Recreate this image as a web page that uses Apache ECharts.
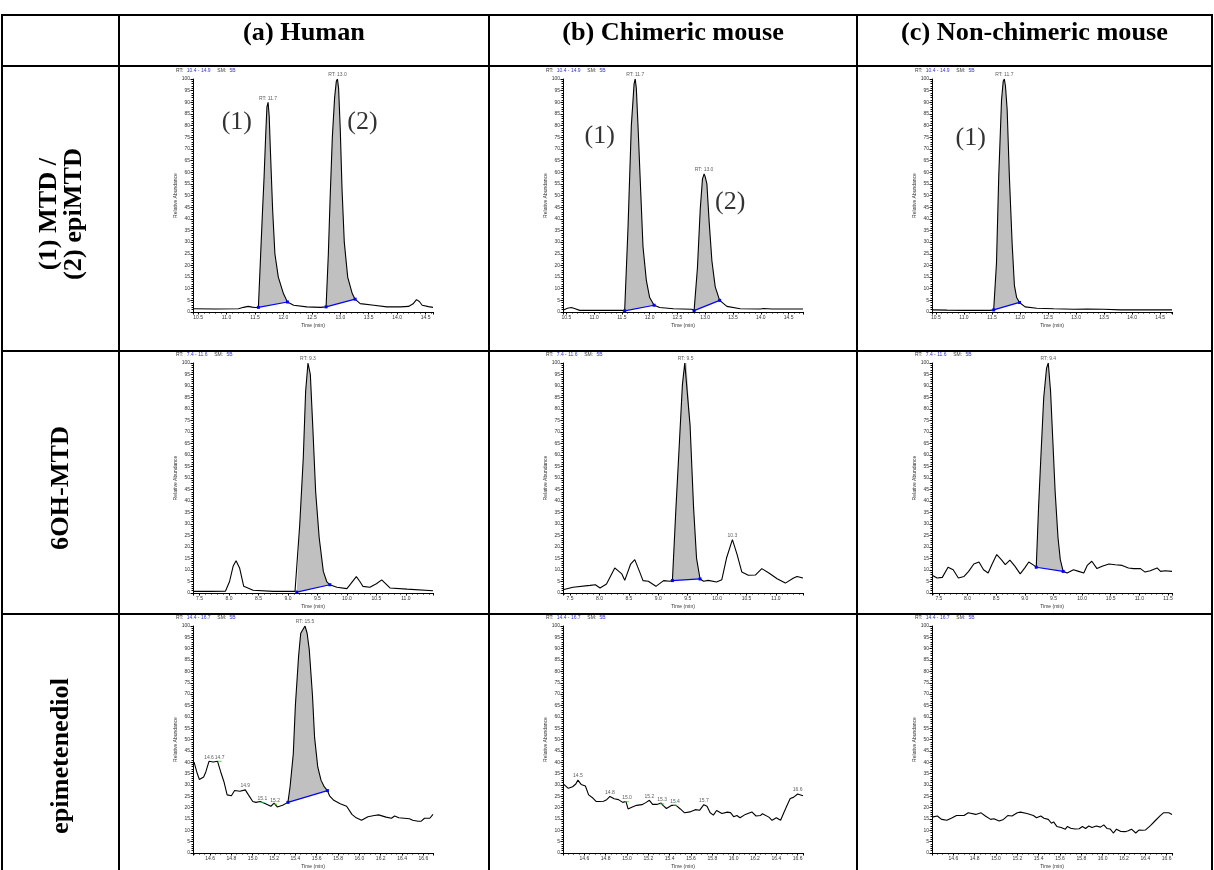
<!DOCTYPE html>
<html>
<head>
<meta charset="UTF-8">
<title>MTD chromatograms</title>
<script src="https://cdn.jsdelivr.net/npm/echarts@6/dist/echarts.min.js"></script>
<style>
    * { margin: 0; padding: 0; box-sizing: border-box; }
    body { background: #fff; }
    #chart { width: 1214px; height: 870px; }
</style>
</head>
<body>
<div id="chart"></div>
<script>
// table titles
const columnTitles = ['(a) Human', '(b) Chimeric mouse', '(c) Non-chimeric mouse'];
const rowTitles = ['(1) MTD /\n(2) epiMTD', '6OH-MTD', 'epimetenediol'];
const rowRanges = ['10.4 - 14.9', '7.4 - 11.6', '14.4 - 16.7'];
const smoothing = '5B';

// time window of each panel [min, max]
const timeRanges = [
    [10.41, 14.63], [10.44, 14.76], [10.43, 14.71],
    [7.39, 11.46], [7.38, 11.46], [7.38, 11.57],
    [14.44, 16.69], [14.40, 16.65], [14.40, 16.65]
];

// traces [time (min), relative abundance %]
const humanMtd = [[10.41,1.4],[10.8,1.3],[11.21,1.4],[11.3,2.0],[11.38,2.4],[11.45,2.1],[11.5,1.9],[11.56,2.0],[11.60,25],[11.63,42],[11.66,58],[11.69,77],[11.71,88],[11.73,90],[11.75,84],[11.77,70],[11.81,44],[11.85,25],[11.91,15],[12.0,7.9],[12.07,4.3],[12.18,2.9],[12.41,2.2],[12.65,2.0],[12.75,2.2],[12.79,25],[12.82,48],[12.86,75],[12.90,92],[12.93,99],[12.95,100],[12.97,96],[13.0,78],[13.03,53],[13.07,30],[13.13,15],[13.21,7.9],[13.26,5.5],[13.35,3.6],[13.59,2.9],[13.82,2.2],[14.06,2.2],[14.2,2.4],[14.28,3.5],[14.34,5.3],[14.39,4.5],[14.44,2.9],[14.55,2.3],[14.63,2.0]];
const chimMtd = [[10.44,0.8],[10.52,1.6],[10.59,1.9],[10.66,1.4],[10.74,0.7],[11.0,0.7],[11.3,0.7],[11.5,0.7],[11.55,0.5],[11.61,36],[11.67,80],[11.72,98],[11.74,100],[11.76,96],[11.79,80],[11.84,51],[11.88,28],[11.94,13.6],[12.0,6.2],[12.08,2.9],[12.18,1.9],[12.43,1.4],[12.76,1.2],[12.80,0.6],[12.86,19],[12.91,44],[12.95,57],[12.98,59.3],[13.0,58],[13.03,55],[13.07,39],[13.12,22],[13.18,10.8],[13.26,5.0],[13.39,2.4],[13.63,1.4],[13.99,1.3],[14.05,1.5],[14.2,1.3],[14.76,1.3]];
const nonMtd = [[10.43,0.9],[10.7,0.8],[11.0,0.7],[11.47,0.7],[11.53,0.9],[11.58,21],[11.62,58],[11.67,91],[11.70,99],[11.72,100],[11.74,97],[11.77,87],[11.81,58],[11.86,29],[11.90,11.3],[11.94,6.2],[11.99,4.1],[12.09,2.2],[12.30,1.6],[12.60,1.4],[12.96,1.2],[13.2,1.3],[13.49,1.2],[13.79,0.9],[14.38,0.9],[14.71,0.9]];
const human6oh = [[7.39,0.7],[7.7,0.7],[7.94,0.8],[8.01,5],[8.07,11.6],[8.12,14],[8.18,10.9],[8.25,2.9],[8.41,1.2],[8.75,0.7],[9.12,0.7],[9.15,0.4],[9.20,29.7],[9.26,58.7],[9.30,87.7],[9.34,100],[9.38,95],[9.42,73],[9.47,44],[9.53,24],[9.60,9.4],[9.66,4.8],[9.71,3.6],[9.83,2.5],[10.0,1.9],[10.08,4.5],[10.16,7.1],[10.22,5],[10.27,2.9],[10.39,2.5],[10.5,4],[10.59,5.7],[10.66,4],[10.73,2.2],[11.02,1.7],[11.46,1.0]];
const chim6oh = [[7.38,1.4],[7.55,2.5],[7.84,3.3],[7.93,3.6],[8.01,2.2],[8.12,3.9],[8.26,10.9],[8.38,8.3],[8.43,5.5],[8.53,12.6],[8.60,14.5],[8.68,9.4],[8.74,5.4],[8.83,5.1],[8.96,2.9],[9.09,5.4],[9.20,5.1],[9.24,5.4],[9.30,37],[9.36,66],[9.41,90.6],[9.45,100],[9.48,100],[9.54,73],[9.60,37],[9.65,15.2],[9.71,6.1],[9.77,5.1],[9.85,5.5],[9.99,4.8],[10.08,5.8],[10.16,15.2],[10.26,23.2],[10.34,16.7],[10.42,9.1],[10.53,7.7],[10.65,7.8],[10.76,10.6],[10.88,8.7],[11.02,6.2],[11.16,4.3],[11.30,6.5],[11.36,7.2],[11.46,6.5]];
const non6oh = [[7.38,7.7],[7.47,6.5],[7.56,6.8],[7.66,11.2],[7.75,10.1],[7.84,6.5],[7.94,7.2],[8.02,9.4],[8.11,12.6],[8.20,13.5],[8.28,10.1],[8.36,8.7],[8.43,12.6],[8.51,16.7],[8.59,14.5],[8.66,12.3],[8.74,14.3],[8.83,11.6],[8.92,8.3],[9.0,10.9],[9.07,13.5],[9.16,12.0],[9.20,11.2],[9.24,37],[9.28,58.7],[9.33,84.8],[9.38,97.8],[9.41,100],[9.45,87.7],[9.49,66],[9.53,44],[9.58,24],[9.62,14.5],[9.67,9.4],[9.74,8.7],[9.85,10.1],[9.94,9.4],[10.03,8.7],[10.09,12],[10.17,13.8],[10.26,10.6],[10.35,11.6],[10.47,12.6],[10.58,12.3],[10.70,12.0],[10.81,10.9],[10.90,10.6],[11.02,10.6],[11.10,9.1],[11.19,9.7],[11.31,10.9],[11.37,9.4],[11.45,9.7],[11.57,9.4]];
const humanEpi = [[14.45,40],[14.48,35],[14.50,32.4],[14.54,33.5],[14.56,35.7],[14.59,40.4],[14.63,40.1],[14.67,40.4],[14.70,35.7],[14.73,31.4],[14.76,25.6],[14.80,25.2],[14.83,27.5],[14.88,27.2],[14.93,27.8],[14.96,25.6],[15.0,22.7],[15.03,22.3],[15.07,22.7],[15.12,21.7],[15.17,20.6],[15.20,22.0],[15.23,20.3],[15.28,21.0],[15.33,22.3],[15.35,29.2],[15.38,43.6],[15.40,65.2],[15.43,86.8],[15.45,96.8],[15.49,100],[15.51,96.8],[15.53,89.6],[15.56,69.5],[15.58,50.8],[15.61,37.8],[15.64,32.1],[15.67,29.2],[15.70,27.5],[15.72,25.2],[15.76,23.2],[15.82,21.7],[15.88,20.6],[15.93,17.0],[15.97,15.5],[16.02,14.4],[16.08,16.0],[16.14,16.5],[16.18,16.8],[16.25,15.8],[16.30,15.3],[16.33,16.3],[16.37,15.5],[16.42,15.3],[16.47,15.1],[16.50,14.4],[16.55,14.0],[16.58,14.0],[16.61,15.3],[16.66,15.3],[16.69,17.0]];
const chimEpi = [[14.40,30.6],[14.45,28.5],[14.49,29.2],[14.52,30.4],[14.54,32.1],[14.57,30.2],[14.61,29.5],[14.64,25.6],[14.68,24.2],[14.71,22.7],[14.74,22.7],[14.78,22.8],[14.81,23.5],[14.84,24.9],[14.88,23.9],[14.92,23.5],[14.96,22.3],[14.99,22.7],[15.01,19.4],[15.05,20.3],[15.09,21.0],[15.14,21.3],[15.18,22.3],[15.21,23.2],[15.24,21.4],[15.28,21.4],[15.32,22.0],[15.34,20.9],[15.37,19.6],[15.42,21.0],[15.46,21.0],[15.50,19.4],[15.54,17.7],[15.59,18.1],[15.64,19.1],[15.68,18.8],[15.72,21.3],[15.75,20.6],[15.78,17.7],[15.81,16.7],[15.84,18.7],[15.89,17.4],[15.94,18.0],[15.97,17.8],[16.00,16.0],[16.03,16.5],[16.06,15.5],[16.11,17.0],[16.17,18.1],[16.21,16.3],[16.25,16.5],[16.27,17.3],[16.33,15.8],[16.36,14.4],[16.40,15.5],[16.44,14.4],[16.47,17.7],[16.50,20.9],[16.53,24.0],[16.56,24.5],[16.60,26.0],[16.65,25.2]];
const nonEpi = [[14.40,15.8],[14.45,16.3],[14.49,14.8],[14.54,14.4],[14.59,15.5],[14.63,16.5],[14.70,16.5],[14.74,17.7],[14.81,17.0],[14.86,17.7],[14.90,16.3],[14.95,14.8],[14.98,15.1],[15.03,14.1],[15.07,14.8],[15.11,16.5],[15.15,16.3],[15.20,17.7],[15.23,18.0],[15.29,17.4],[15.35,16.5],[15.38,15.5],[15.42,16.3],[15.45,15.3],[15.49,14.8],[15.52,13.1],[15.54,13.7],[15.57,11.7],[15.61,11.2],[15.65,10.5],[15.67,11.7],[15.70,10.9],[15.74,10.6],[15.78,10.7],[15.81,11.7],[15.84,10.8],[15.87,11.9],[15.90,11.2],[15.94,11.9],[15.98,11.4],[16.01,12.4],[16.04,10.8],[16.07,10.6],[16.10,8.8],[16.13,10.5],[16.17,9.5],[16.21,9.4],[16.24,9.8],[16.27,10.5],[16.31,8.8],[16.34,10.1],[16.37,10.0],[16.40,10.1],[16.45,12.2],[16.49,14.1],[16.54,16.5],[16.57,17.7],[16.62,17.7],[16.65,17.0]];

// integrated peaks: [start, end] of the blue baseline
const humanMtdPeaks = [[11.56, 12.07], [12.75, 13.26]];
const chimMtdPeaks = [[11.55, 12.08], [12.80, 13.26]];
const nonMtdPeaks = [[11.53, 11.99]];
const human6ohPeaks = [[9.15, 9.71]];
const chim6ohPeaks = [[9.24, 9.71]];
const non6ohPeaks = [[9.20, 9.67]];
const humanEpiPeaks = [[15.33, 15.70]];

// peak labels [time, abundance, text, green tick]
const humanMtdLabels = [[11.73, 90, 'RT: 11.7'], [12.95, 100, 'RT: 13.0']];
const chimMtdLabels = [[11.74, 100, 'RT: 11.7'], [12.98, 59.3, 'RT: 13.0']];
const nonMtdLabels = [[11.72, 100, 'RT: 11.7']];
const human6ohLabels = [[9.34, 100, 'RT: 9.3']];
const chim6ohLabels = [[9.465, 100, 'RT: 9.5'], [10.26, 23.2, '10.3']];
const non6ohLabels = [[9.41, 100, 'RT: 9.4']];
const humanEpiLabels = [[14.59, 40.4, '14.6'], [14.69, 40.4, '14.7', true], [14.93, 27.8, '14.9'], [15.09, 22.3, '15.1', true], [15.21, 21.5, '15.2', true], [15.49, 100, 'RT: 15.5']];
const chimEpiLabels = [[14.54, 32.1, '14.5'], [14.84, 24.9, '14.8'], [15.0, 22.6, '15.0', true], [15.21, 23.2, '15.2'], [15.33, 21.6, '15.3', true], [15.45, 21.0, '15.4', true], [15.72, 21.3, '15.7'], [16.60, 26.0, '16.6']];

// compound numbers written on the top row
const humanMtdMarks = [[11.18, 81.5, '(1)'], [13.39, 81.5, '(2)']];
const chimMtdMarks = [[11.10, 75.3, '(1)'], [13.45, 47.2, '(2)']];
const nonMtdMarks = [[11.12, 74.8, '(1)']];

const panels = [
    { trace: humanMtd, peaks: humanMtdPeaks, labels: humanMtdLabels, marks: humanMtdMarks },
    { trace: chimMtd, peaks: chimMtdPeaks, labels: chimMtdLabels, marks: chimMtdMarks },
    { trace: nonMtd, peaks: nonMtdPeaks, labels: nonMtdLabels, marks: nonMtdMarks },
    { trace: human6oh, peaks: human6ohPeaks, labels: human6ohLabels, marks: [] },
    { trace: chim6oh, peaks: chim6ohPeaks, labels: chim6ohLabels, marks: [] },
    { trace: non6oh, peaks: non6ohPeaks, labels: non6ohLabels, marks: [] },
    { trace: humanEpi, peaks: humanEpiPeaks, labels: humanEpiLabels, marks: [] },
    { trace: chimEpi, peaks: [], labels: chimEpiLabels, marks: [] },
    { trace: nonEpi, peaks: [], labels: [], marks: [] }
];

// layout
const gridLeft = [193, 563, 932];
const gridTop = [79, 363, 626];
const gridHeight = [233, 230, 232];
const gridWidth = 240;
const colLines = [2, 119, 489, 857, 1212];
const rowLines = [15, 66, 351, 614];

const sans = '"Liberation Sans", Arial, sans-serif';
const serif = '"Liberation Serif", "Times New Roman", serif';

function pointAt(trace, t) {
    return trace.find(p => Math.abs(p[0] - t) < 1e-6);
}

const grids = [], xAxes = [], yAxes = [], series = [];

panels.forEach((p, i) => {
    const row = Math.floor(i / 3), col = i % 3;
    grids.push({ left: gridLeft[col], top: gridTop[row], width: gridWidth, height: gridHeight[row] });

    xAxes.push({
        type: 'value', gridIndex: i,
        min: timeRanges[i][0], max: timeRanges[i][1],
        splitNumber: row === 2 ? 10 : 8,
        axisLine: { onZero: false, lineStyle: { color: '#000', width: 1 } },
        axisTick: { length: 2.5, lineStyle: { color: '#000' } },
        minorTick: { show: true, splitNumber: row === 2 ? 4 : 5, length: 1.5, lineStyle: { color: '#000' } },
        axisLabel: {
            fontSize: 5, color: '#333', fontFamily: sans, margin: 3, interval: 0,
            showMinLabel: false, showMaxLabel: false,
            formatter: v => v.toFixed(1)
        },
        splitLine: { show: false },
        name: 'Time (min)', nameLocation: 'middle', nameGap: 11,
        nameTextStyle: { fontSize: 5, color: '#333', fontFamily: sans }
    });

    yAxes.push({
        type: 'value', gridIndex: i, min: 0, max: 100, interval: 5,
        axisLine: { show: true, lineStyle: { color: '#000', width: 1 } },
        axisTick: { show: true, length: 2.5, lineStyle: { color: '#000' } },
        minorTick: { show: true, splitNumber: 5, length: 1.5, lineStyle: { color: '#000' } },
        axisLabel: { fontSize: 5, color: '#333', fontFamily: sans, margin: 3, interval: 0 },
        splitLine: { show: false },
        name: 'Relative Abundance', nameLocation: 'middle', nameGap: 12, nameRotate: 90,
        nameTextStyle: { fontSize: 5, color: '#333', fontFamily: sans }
    });

    // grey integrated area under each peak, closed by the baseline
    if (p.peaks.length) {
        series.push({
            type: 'custom', xAxisIndex: i, yAxisIndex: i, silent: true, z: 2,
            data: p.peaks.map(w => [w[0], 0]),
            encode: { x: 0, y: 1 },
            renderItem: (params, api) => {
                const w = p.peaks[params.dataIndex];
                const pts = p.trace
                    .filter(q => q[0] >= w[0] - 1e-6 && q[0] <= w[1] + 1e-6)
                    .map(q => api.coord(q));
                return { type: 'polygon', shape: { points: pts }, style: { fill: '#c0c0c0', stroke: null } };
            }
        });
    }

    series.push({
        type: 'line', xAxisIndex: i, yAxisIndex: i, data: p.trace,
        symbol: 'none', silent: true, z: 3,
        lineStyle: { color: '#000', width: 1.1 }
    });

    p.peaks.forEach(w => {
        series.push({
            type: 'line', xAxisIndex: i, yAxisIndex: i, silent: true, z: 4,
            data: [pointAt(p.trace, w[0]), pointAt(p.trace, w[1])],
            symbol: 'rect', symbolSize: 3, showSymbol: true,
            lineStyle: { color: '#0000ff', width: 1.2 },
            itemStyle: { color: '#0000ff' }
        });
    });

    if (p.labels.length) {
        series.push({
            type: 'scatter', xAxisIndex: i, yAxisIndex: i, silent: true, z: 5,
            data: p.labels.map(l => ({ value: [l[0], l[1]], name: l[2] })),
            symbolSize: 0.1,
            label: {
                show: true, position: 'top', distance: 1.5,
                formatter: d => d.name, fontSize: 5, color: '#333', fontFamily: sans
            }
        });
        const ticks = p.labels.filter(l => l[3]);
        if (ticks.length) {
            series.push({
                type: 'scatter', xAxisIndex: i, yAxisIndex: i, silent: true, z: 5,
                data: ticks.map(l => [l[0], l[1]]),
                symbol: 'rect', symbolSize: [4, 1],
                itemStyle: { color: '#33cc33' }
            });
        }
    }

    if (p.marks.length) {
        series.push({
            type: 'scatter', xAxisIndex: i, yAxisIndex: i, silent: true, z: 5,
            data: p.marks.map(m => ({ value: [m[0], m[1]], name: m[2] })),
            symbolSize: 0.1,
            label: {
                show: true, position: 'inside', formatter: d => d.name,
                fontSize: 26, color: '#000', fontFamily: serif
            }
        });
    }
});

// table frame, titles and the scan range texts
const graphic = [];
colLines.forEach(x => graphic.push({
    type: 'line', silent: true,
    shape: { x1: x, y1: rowLines[0] - 1, x2: x, y2: 870 },
    style: { stroke: '#000', lineWidth: 2 }
}));
rowLines.forEach(y => graphic.push({
    type: 'line', silent: true,
    shape: { x1: colLines[0] - 1, y1: y, x2: colLines[4] + 1, y2: y },
    style: { stroke: '#000', lineWidth: 2 }
}));
columnTitles.forEach((t, c) => graphic.push({
    type: 'text', silent: true,
    x: (colLines[c + 1] + colLines[c + 2]) / 2, y: 34, scaleX: 1.05,
    style: { text: t, fontSize: 25, fontWeight: 'bold', fontFamily: serif, fill: '#000', align: 'center', verticalAlign: 'middle' }
}));
rowTitles.forEach((t, r) => graphic.push({
    type: 'text', silent: true,
    x: 62, y: r === 0 ? 214 : (r === 1 ? 488 : 756), rotation: Math.PI / 2, scaleX: 1.05,
    style: { text: t, fontSize: 25, fontWeight: 'bold', fontFamily: serif, fill: '#000', align: 'center', verticalAlign: 'middle', lineHeight: 25 }
}));
for (let r = 0; r < 3; r++) {
    for (let c = 0; c < 3; c++) {
        graphic.push({
            type: 'text', silent: true,
            x: gridLeft[c] - 17, y: gridTop[r] - 8.5,
            style: {
                text: '{k|RT:} {v|' + rowRanges[r] + '}  {k|SM:} {v|' + smoothing + '}',
                verticalAlign: 'middle', align: 'left',
                rich: {
                    k: { fill: '#333', color: '#333', fontSize: 5, fontFamily: sans },
                    v: { fill: '#3333cc', color: '#3333cc', fontSize: 5, fontFamily: sans }
                }
            }
        });
    }
}

const chart = echarts.init(document.getElementById('chart'));
chart.setOption({
    animation: false,
    backgroundColor: '#fff',
    grid: grids,
    xAxis: xAxes,
    yAxis: yAxes,
    series: series,
    graphic: graphic
});
</script>
</body>
</html>
